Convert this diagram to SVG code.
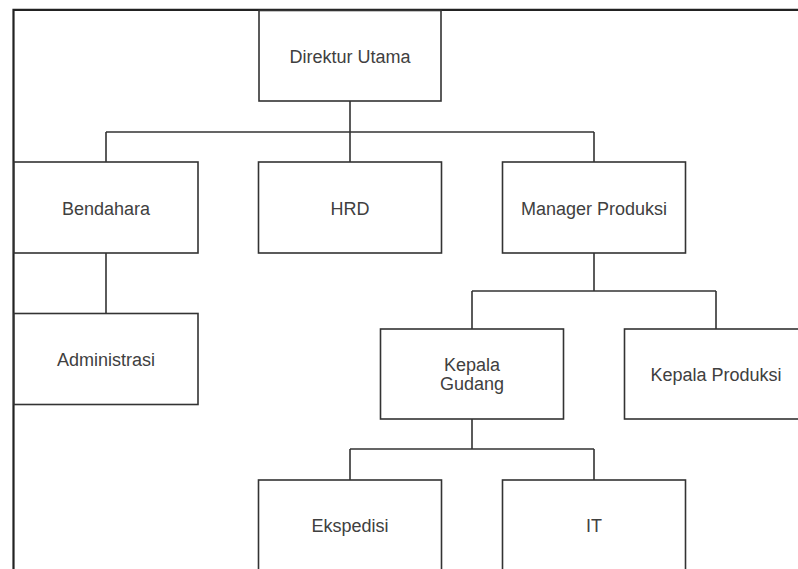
<svg xmlns="http://www.w3.org/2000/svg" width="798" height="569" viewBox="0 0 798 569">
<style>
.box{fill:#ffffff;stroke:#333333;stroke-width:1.6}
.lbl{font-family:"Liberation Sans",Arial,sans-serif;font-size:18px;fill:#404040;text-anchor:middle}
.con{fill:none;stroke:#333333;stroke-width:1.6}
.frame{fill:none;stroke:#222222;stroke-width:2.2}
</style>
<rect width="798" height="569" fill="#ffffff"/>
<g id="frame"><path class="frame" d="M13.5,569 V9.8 H798"/></g>
<g id="connectors">
<path class="con" d="M350,101 V132 M106,132 H594 M106,132 V162 M350,132 V162 M594,132 V162"/>
<path class="con" d="M106,253 V313"/>
<path class="con" d="M594,253 V291 M472,291 H716 M472,291 V329 M716,291 V329"/>
<path class="con" d="M472,419 V449 M350,449 H594 M350,449 V480 M594,449 V480"/>
</g>
<g id="direktur-utama"><rect class="box" x="259" y="10.5" width="182" height="90.5"/><text class="lbl" x="350" y="63">Direktur Utama</text></g>
<g id="bendahara"><rect class="box" x="14" y="162" width="184" height="91"/><text class="lbl" x="106" y="215">Bendahara</text></g>
<g id="hrd"><rect class="box" x="258.5" y="162" width="183" height="91"/><text class="lbl" x="350" y="215">HRD</text></g>
<g id="manager-produksi"><rect class="box" x="502.5" y="162" width="183" height="91"/><text class="lbl" x="594" y="215">Manager Produksi</text></g>
<g id="administrasi"><rect class="box" x="14" y="313.5" width="184" height="91"/><text class="lbl" x="106" y="366">Administrasi</text></g>
<g id="kepala-gudang"><rect class="box" x="380.5" y="329" width="183" height="90"/><text class="lbl" x="472" y="371">Kepala</text><text class="lbl" x="472" y="390">Gudang</text></g>
<g id="kepala-produksi"><rect class="box" x="624.5" y="329" width="183" height="90"/><text class="lbl" x="716" y="381">Kepala Produksi</text></g>
<g id="ekspedisi"><rect class="box" x="258.5" y="480" width="183" height="91"/><text class="lbl" x="350" y="532">Ekspedisi</text></g>
<g id="it"><rect class="box" x="502.5" y="480" width="183" height="91"/><text class="lbl" x="594" y="532">IT</text></g>
</svg>
